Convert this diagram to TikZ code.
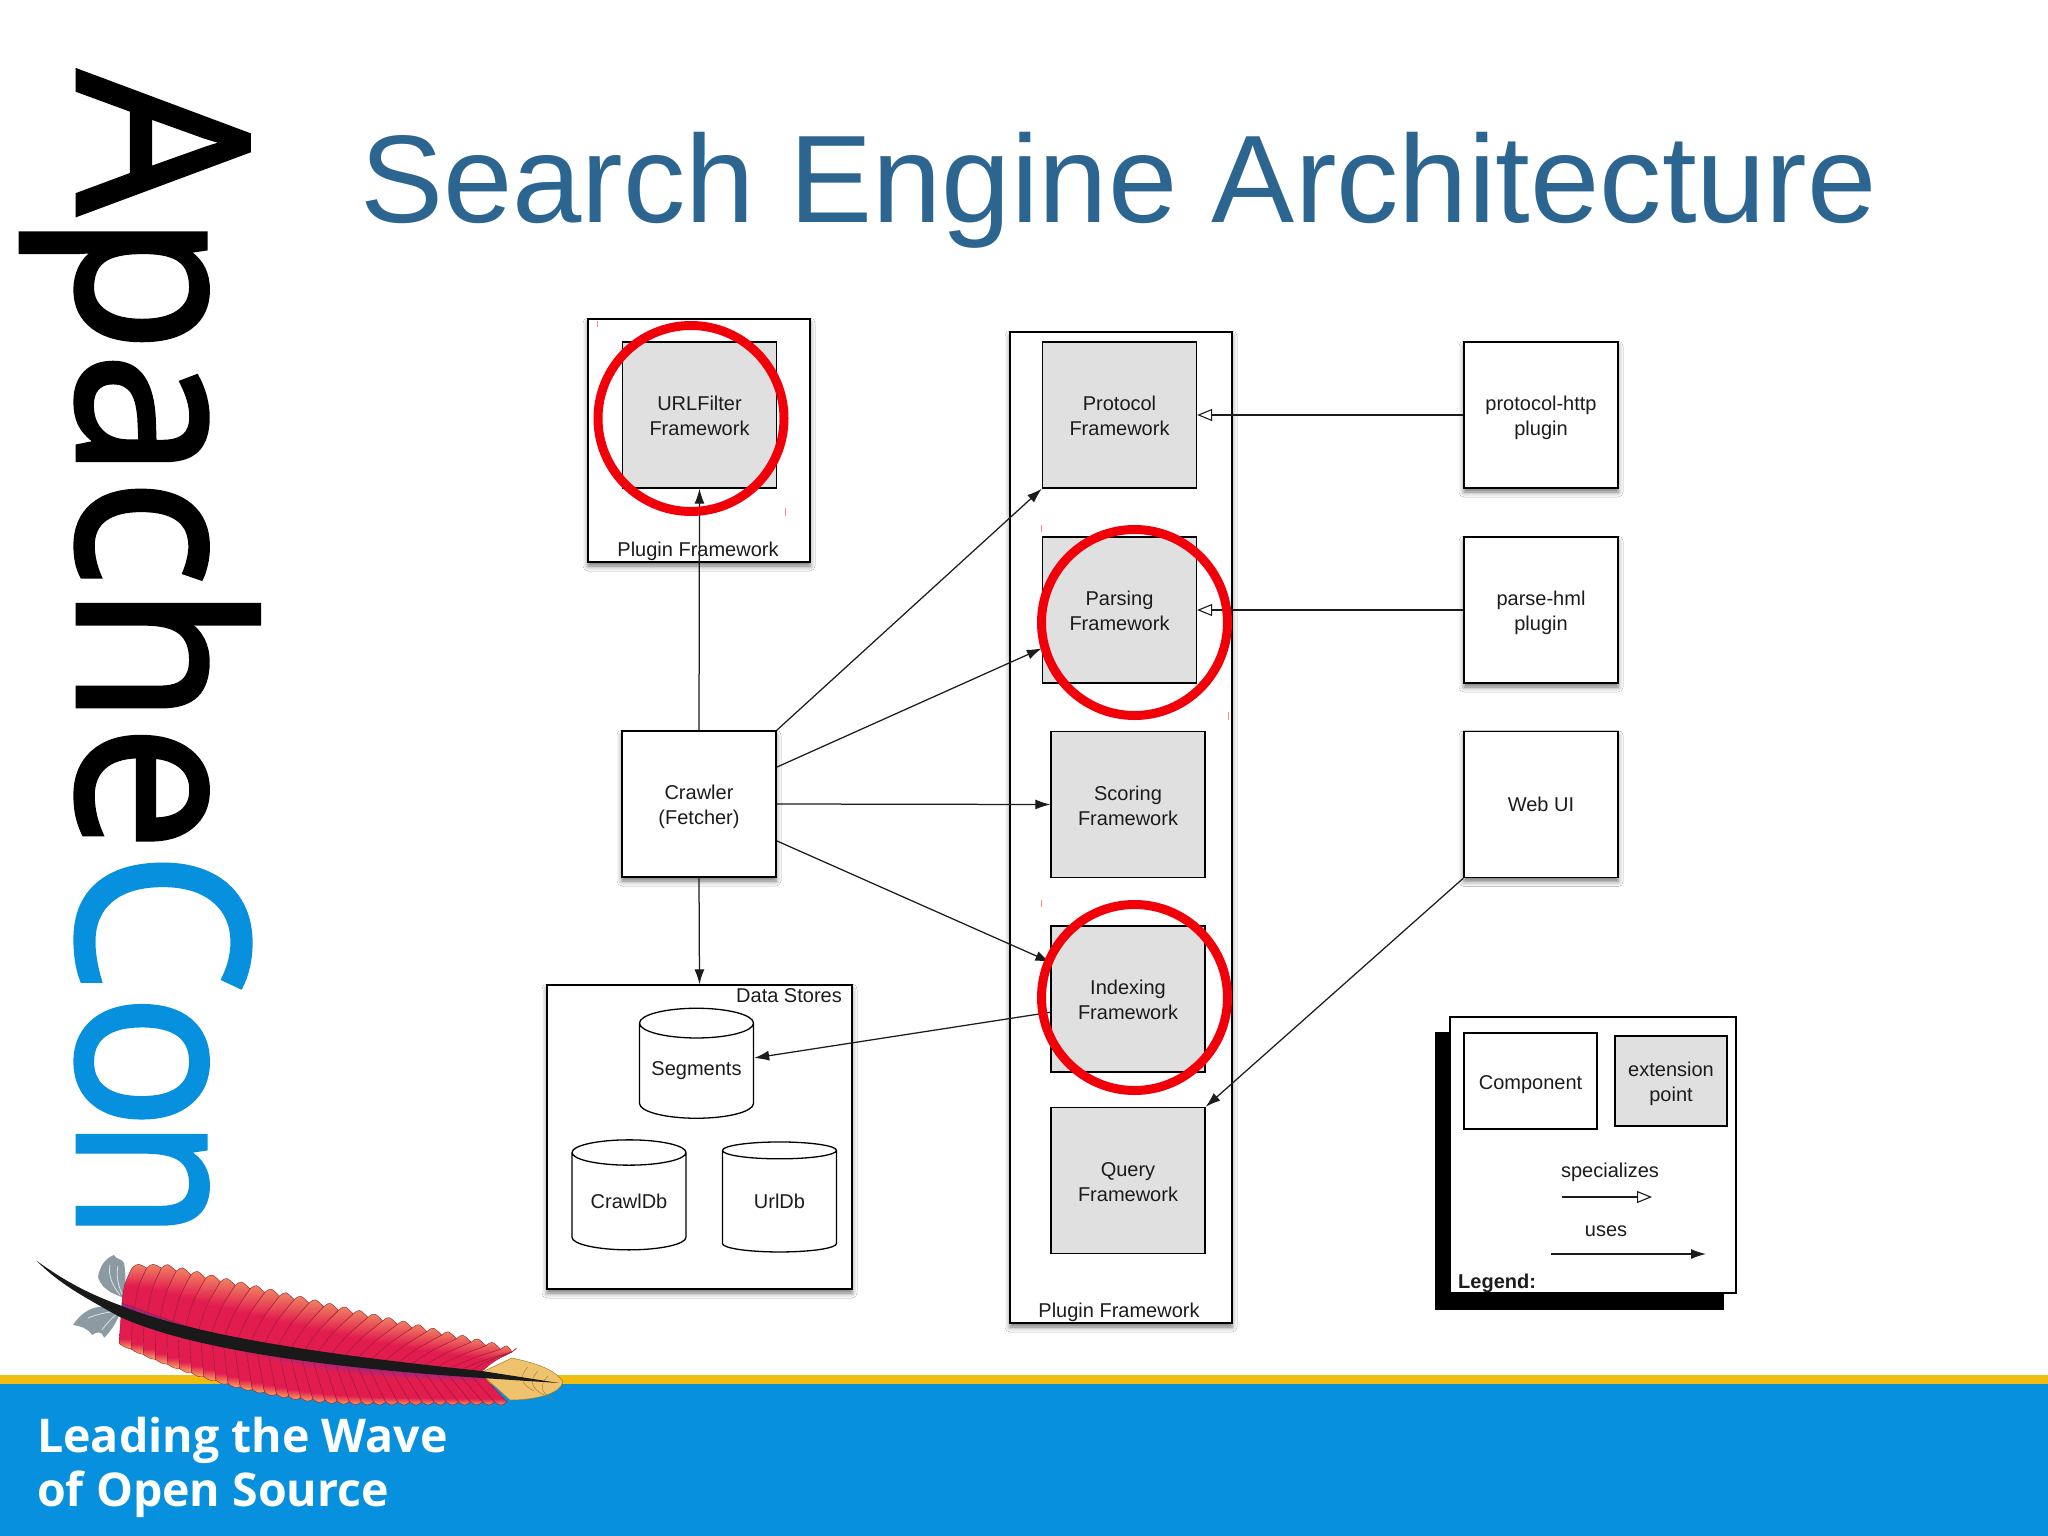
\documentclass[tikz,border=0pt]{standalone}
\usepackage{fontspec}
\setmainfont{Liberation Sans}
\newfontfamily\logofont[FakeStretch=.949,FakeBold=1.9]{Open Sans}
\newfontfamily\sloganfont{Open Sans}
\usetikzlibrary{arrows.meta,calc,shapes.geometric,shadows,shadows.blur}
\definecolor{titleblue}{HTML}{2C6690}
\definecolor{bandblue}{HTML}{0690DD}
\definecolor{bandyellow}{HTML}{EFBE10}
\definecolor{extgray}{HTML}{E0E0E0}
\definecolor{inkgray}{HTML}{1C1C1C}
\definecolor{ringred}{HTML}{F2000A}
\definecolor{fern}{HTML}{8C9AA2}
\definecolor{fernline}{HTML}{DDE3E6}
\definecolor{vanecrimson}{HTML}{E31C50}
\definecolor{vanesalmon}{HTML}{F08A62}
\definecolor{vanepurple}{HTML}{8E2A90}
\definecolor{vaneorange}{HTML}{F6B060}
\definecolor{vaneline}{HTML}{9A1A30}
\definecolor{tiptan}{HTML}{EFC36E}
\definecolor{tipline}{HTML}{A07A30}
\pgfdeclareverticalshading{uppervane}{100bp}{color(0bp)=(vanecrimson);color(25bp)=(vanecrimson);color(50bp)=(vanecrimson);color(75bp)=(vanesalmon);color(100bp)=(vanesalmon)}
\pgfdeclareverticalshading{lowervane}{100bp}{color(0bp)=(vaneorange);color(25bp)=(vaneorange);color(36bp)=(vanecrimson);color(62bp)=(vanecrimson);color(75bp)=(vanepurple);color(100bp)=(vanepurple)}
\newcommand\dropa{\rule{0pt}{21pt}}
\newcommand\dropb{\rule{0pt}{16.5pt}}
\tikzset{
  softshadow/.style={blur shadow={shadow xshift=0pt,shadow yshift=-4pt,shadow blur radius=5pt,shadow opacity=55}},
  lab/.style={font=\fontsize{20}{25}\selectfont,text=inkgray,align=center,inner sep=0pt},
  container/.style={draw=black,line width=1.4pt,fill=white,softshadow},
  compbox/.style={draw=black,line width=1.4pt,fill=white,softshadow,minimum width=154pt,minimum height=146pt,lab},
  extbox/.style={draw=black,line width=1.3pt,fill=extgray,minimum width=154pt,minimum height=146pt,lab},
  store/.style={cylinder,shape border rotate=90,aspect=.33,draw=black,line width=1.3pt,fill=white,minimum width=114pt,minimum height=110pt,lab},
  uses/.style={draw=inkgray,line width=1.25pt,-{Latex[length=15pt,width=10pt]}},
  specializes/.style={draw=inkgray,line width=1.25pt,-{Triangle[open,length=15pt,width=12pt,line width=1.1pt]}},
  ring/.style={draw=ringred,line width=9pt},
  tick/.style={draw=red!45,line width=.8pt},
}
\begin{document}
\begin{tikzpicture}[x=1pt,y=-1pt]
\useasboundingbox (0,0) rectangle (2048,1536);
\fill[white] (0,0) rectangle (2048,1536);

% band
\fill[bandblue] (0,1384) rectangle (2048,1536);
\fill[bandyellow] (0,1375) rectangle (2048,1384);

% title
\node[anchor=base west,inner sep=0pt,text=titleblue,font=\fontsize{124.6}{130}\selectfont] (title) at (360,222) {Search Engine Architecture};

% vertical logo
\node[anchor=base west,rotate=-90,inner sep=0pt,font=\logofont\fontsize{238}{240}\selectfont] (logo) at (78,71) {Apache\textcolor{bandblue}{Co\kern-11pt\scalebox{.87}[1]{n}}};

% slogan
\node[anchor=base west,inner sep=0pt,text=white,font=\sloganfont\bfseries\fontsize{46.5}{54}\selectfont] (slogan1) at (37,1452) {Leading the Wave};
\node[anchor=base west,inner sep=0pt,text=white,font=\sloganfont\bfseries\fontsize{46.5}{54}\selectfont] (slogan2) at (37,1506) {of Open Source};

% feather fronds
\fill[fern] (98,1277) .. controls (100,1265) and (106,1258) .. (114,1255) .. controls (116,1260) and (122,1258) .. (124,1263) .. controls (126,1275) and (126,1285) .. (124,1298) -- (112,1293) .. controls (104,1288) and (100,1284) .. (98,1277) -- cycle;
\fill[fern] (73,1325) .. controls (80,1314) and (90,1308) .. (98,1307) -- (122,1308) .. controls (118,1320) and (112,1330) .. (104,1338) .. controls (102,1330) and (96,1332) .. (92,1335) .. controls (88,1328) and (80,1326) .. (73,1325) -- cycle;
\draw[fernline,line width=.8pt] (110,1265) .. controls (108,1275) and (112,1285) .. (120,1295);
\draw[fernline,line width=.8pt] (118,1266) .. controls (116,1275) and (118,1285) .. (122,1294);
\draw[fernline,line width=.8pt] (88,1318) .. controls (98,1314) and (108,1312) .. (118,1311);
\draw[fernline,line width=.8pt] (102,1330) .. controls (106,1324) and (112,1318) .. (118,1313);

% feather vanes as slices
\foreach \i in {0,...,27}{
  \pgfmathsetmacro\ta{\i/28}
  \pgfmathsetmacro\tb{(\i+1)/28}
  \pgfmathsetmacro\sxa{122+358*\ta}
  \pgfmathsetmacro\sxb{122+358*\tb}
  \pgfmathsetmacro\sya{1303+70*(1-(1-\ta)^2)}
  \pgfmathsetmacro\syb{1303+70*(1-(1-\tb)^2)}
  \pgfmathsetmacro\exa{min(\sxa+10+55*\ta,512)}
  \pgfmathsetmacro\exb{min(\sxb+10+55*\tb,512)}
  \pgfmathsetmacro\eya{1268+.2407*max(\exa-163,0)}
  \pgfmathsetmacro\eyb{1268+.2407*max(\exb-163,0)}
  \path[draw=vaneline,line width=.4pt,shading=uppervane]
    (\sxa,\sya) .. controls ($(\sxa,\sya)!.5!(\exa,\eya)+(-3,-1)$) .. (\exa,\eya)
    .. controls ($(\exa,\eya)+(6,-5)$) .. (\exb,\eyb)
    .. controls ($(\sxb,\syb)!.5!(\exb,\eyb)+(-3,-1)$) .. (\sxb,\syb) -- cycle;
}
\foreach \i in {0,...,31}{
  \pgfmathsetmacro\ta{\i/32}
  \pgfmathsetmacro\tb{(\i+1)/32}
  \pgfmathsetmacro\sxa{122+358*\ta}
  \pgfmathsetmacro\sxb{122+358*\tb}
  \pgfmathsetmacro\sya{1303+70*(1-(1-\ta)^2)}
  \pgfmathsetmacro\syb{1303+70*(1-(1-\tb)^2)}
  \pgfmathsetmacro\exa{\sxa-3+30*\ta}
  \pgfmathsetmacro\exb{\sxb-3+30*\tb}
  \pgfmathsetmacro\ua{max(1-max(\exa-116,0)/250,0)}
  \pgfmathsetmacro\ub{max(1-max(\exb-116,0)/250,0)}
  \pgfmathsetmacro\eya{1402-60*\ua*\ua}
  \pgfmathsetmacro\eyb{1402-60*\ub*\ub}
  \path[draw=vaneline,line width=.4pt,shading=lowervane]
    (\sxa,\sya) -- (\exa,\eya) .. controls ($(\exa,\eya)+(6,4)$) .. (\exb,\eyb) -- (\sxb,\syb) -- cycle;
}
% feather tip
\path[draw=tipline,line width=.5pt,fill=tiptan]
  (480,1373) -- (512,1358) .. controls (530,1362) and (555,1368) .. (563,1382) .. controls (560,1394) and (535,1400) .. (510,1400) -- cycle;
\foreach \a/\b in {528/1367,538/1371,548/1376}{
  \draw[tipline,line width=.4pt] (\a,\b) .. controls ($(\a,\b)+(-10,10)$) and ($(\a,\b)+(-6,18)$) .. ($(\a,\b)+(6,24)$);
}
% spine
\fill[black!90] (37,1261) .. controls (70,1285) and (95,1296) .. (122,1306) .. controls (190,1333) and (300,1352) .. (482,1371) -- (559,1383) -- (482,1378) .. controls (300,1366) and (180,1345) .. (118,1316) .. controls (90,1300) and (60,1285) .. (37,1261) -- cycle;

% containers
\node[container,minimum width=222pt,minimum height=243pt] (pluginA) at (699,440.5) {};
\node[container,minimum width=222pt,minimum height=991pt] (pluginB) at (1121,827.5) {};
\node[container,minimum width=305pt,minimum height=304pt] (stores) at (699.5,1137) {};

\node[lab] (pluginAlab) at (698,551.5) {Plugin Framework};
\node[lab] (pluginBlab) at (1119,1312.5) {Plugin Framework};
\node[lab] (storeslab) at (789,996) {Data Stores};

% extension points
\node[extbox] (urlfilter) at (699.5,415) {\dropb URLFilter\\Framework};
\node[extbox] (protocol) at (1119.5,415) {\dropb Protocol\\Framework};
\node[extbox] (parsing) at (1119.5,610) {\dropb Parsing\\Framework};
\node[extbox] (scoring) at (1128,804.5) {\dropb Scoring\\Framework};
\node[extbox] (indexing) at (1128,999) {\dropb Indexing\\Framework};
\node[extbox] (query) at (1128,1180.5) {\dropb Query\\Framework};

% components
\node[compbox] (crawler) at (699,804) {\dropa Crawler\\(Fetcher)};
\node[compbox] (http) at (1541,415) {\dropa protocol-http\\plugin};
\node[compbox] (parse) at (1541,610) {\dropa parse-hml\\plugin};
\node[compbox] (webui) at (1541,804.5) {Web UI};

% stores
\node[store] (segments) at (696.5,1071) {Segments};
\node[store] (crawldb) at (629,1201.5) {CrawlDb};
\node[store] (urldb) at (779.5,1201.5) {UrlDb};

% connectors
\draw[uses] (crawler.north) -- (urlfilter.south);
\draw[uses] (crawler.north east) -- (protocol.south west);
\draw[uses] ($(crawler.north east)!.25!(crawler.south east)$) -- ($(parsing.north west)!.76!(parsing.south west)$);
\draw[uses] (crawler.east) -- (scoring.west);
\draw[uses] ($(crawler.north east)!.75!(crawler.south east)$) -- ($(indexing.north west)!.25!(indexing.south west)$);
\draw[uses] (crawler.south) -- (stores.north);
\draw[uses] ($(indexing.north west)!.59!(indexing.south west)$) -- ($(segments.east)+(0,-13)$);
\draw[uses] (webui.south west) -- (query.north east);
\draw[specializes] (http.west) -- (protocol.east);
\draw[specializes] (parse.west) -- (parsing.east);

% legend
\fill[black] (1435,1032) rectangle (1724,1310);
\node[draw=black,line width=1.3pt,fill=white,minimum width=286pt,minimum height=276pt,inner sep=0pt] (legend) at (1593,1155) {};
\node[draw=black,line width=1.3pt,fill=white,minimum width=133pt,minimum height=96pt,lab] (lcomp) at (1530.5,1081) {\dropa Component};
\node[draw=black,line width=1.3pt,fill=extgray,minimum width=112pt,minimum height=90pt,lab] (lext) at (1671,1081) {\dropa extension\\point};
\node[lab] (lspec) at (1610,1172.5) {specializes};
\node[lab] (luses) at (1606,1231.5) {uses};
\node[lab,anchor=west,font=\bfseries\fontsize{20}{25}\selectfont] (llegend) at (1458,1283) {Legend:};
\coordinate (sa) at (1562,1197);
\coordinate (sb) at (1652,1197);
\coordinate (ua) at (1551,1254);
\coordinate (ub) at (1706,1254);
\draw[specializes] (sa) -- (sb);
\draw[uses] (ua) -- (ub);

% rings
\node[ring,ellipse,minimum width=186pt,minimum height=186pt,inner sep=0pt] (ringA) at (691,418.5) {};
\node[ring,ellipse,minimum width=186pt,minimum height=186pt,inner sep=0pt] (ringB) at (1134.5,622.5) {};
\node[ring,ellipse,minimum width=186pt,minimum height=186pt,inner sep=0pt] (ringC) at (1134.5,997.5) {};

% faint ticks
\draw[tick] (597,321) -- (597,327);
\draw[tick] (785,508) -- (785,516);
\draw[tick] (1041,525) -- (1041,532);
\draw[tick] (1228,712) -- (1228,720);
\draw[tick] (1041,900) -- (1041,907);
\end{tikzpicture}
\end{document}
